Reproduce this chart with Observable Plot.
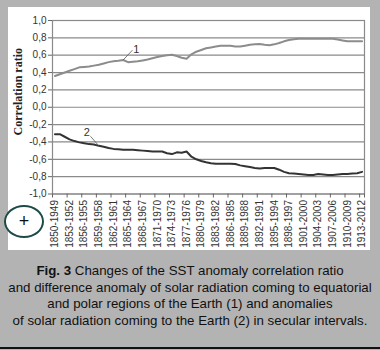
<!DOCTYPE html>
<html><head><meta charset="utf-8">
<script src="https://cdn.jsdelivr.net/npm/d3@7"></script>
<script src="https://cdn.jsdelivr.net/npm/@observablehq/plot@0.6"></script>
<style>
html,body{margin:0;padding:0;}
body{width:380px;height:350px;background:#b3b3b3;position:relative;overflow:hidden;font-family:"Liberation Sans",Arial,sans-serif;}
#panel{position:absolute;left:8px;top:7px;width:362px;height:243px;background:#fff;}
#panel svg{display:block;}
#badge{position:absolute;left:4px;top:205px;width:36px;height:29px;border:2px solid #1e4b48;border-radius:50%;background:#fff;text-align:center;line-height:28px;font-size:18px;color:#111;}
#caption{position:absolute;left:0;top:263px;width:380px;text-align:center;font-size:13.3px;line-height:16.5px;color:#111;}
#rule{position:absolute;left:0;top:347px;width:380px;height:2px;background:#111;}
</style></head>
<body>
<div id="panel"></div>
<div id="badge">+</div>
<div id="caption"><b>Fig. 3</b> Changes of the SST anomaly correlation ratio<br>and difference anomaly of solar radiation coming to equatorial<br>and polar regions of the Earth (1) and anomalies<br>of solar radiation coming to the Earth (2) in secular intervals.</div>
<div id="rule"></div>
<script>
// Categories: start year of each 100-year window (1850-1949 ... 1913-2012)
const years = d3.range(1850, 1914);

// Series 1: SST anomaly correlation ratio vs. difference anomaly (equatorial - polar)
const series1Values = [
  0.36, 0.38, 0.40, 0.42, 0.44, 0.46, 0.465, 0.47, 0.48, 0.49,
  0.505, 0.52, 0.53, 0.535, 0.545, 0.52, 0.525, 0.53, 0.54, 0.55,
  0.565, 0.58, 0.59, 0.60, 0.605, 0.59, 0.57, 0.56, 0.61, 0.64,
  0.66, 0.68, 0.69, 0.70, 0.71, 0.71, 0.71, 0.70, 0.70, 0.71,
  0.72, 0.725, 0.73, 0.72, 0.715, 0.725, 0.74, 0.76, 0.775, 0.785,
  0.79, 0.79, 0.79, 0.79, 0.79, 0.79, 0.79, 0.79, 0.78, 0.77,
  0.76, 0.76, 0.76, 0.76
];

// Series 2: correlation ratio vs. anomalies of solar radiation coming to the Earth
const series2Values = [
  -0.31, -0.31, -0.34, -0.37, -0.39, -0.405, -0.415, -0.425, -0.43, -0.445,
  -0.455, -0.47, -0.48, -0.485, -0.49, -0.49, -0.49, -0.495, -0.50, -0.505,
  -0.51, -0.51, -0.51, -0.53, -0.54, -0.52, -0.525, -0.51, -0.57, -0.60,
  -0.62, -0.635, -0.645, -0.65, -0.65, -0.65, -0.65, -0.655, -0.67, -0.68,
  -0.69, -0.70, -0.705, -0.70, -0.70, -0.70, -0.72, -0.745, -0.76, -0.765,
  -0.77, -0.775, -0.78, -0.78, -0.77, -0.775, -0.78, -0.78, -0.775, -0.77,
  -0.77, -0.765, -0.76, -0.745
];

// Tick labels (every third window)
const labelYears = [1850,1853,1856,1859,1862,1865,1868,1871,1874,1877,1880,1883,1886,1889,1892,1895,1898,1901,1904,1907,1910,1913];
const tickLabels = ["1850-1949","1853-1952","1856-1955","1859-1958","1862-1961","1865-1964","1868-1967","1871-1970","1874-1973","1877-1976","1880-1979","1883-1982","1886-1985","1889-1988","1892-1991","1895-1994","1898-1997","1901-2000","1904-2003","1907-2006","1910-2009","1913-2012"];
const yTicks = [-1.0,-0.8,-0.6,-0.4,-0.2,0.0,0.2,0.4,0.6,0.8,1.0];
const yLabel = "Correlation ratio";

// Series labels, attached to the year where the leader touches the line
const seriesLabels = ["1", "2"];
const labelAnchorYears = [1864, 1859];

const s1 = years.map((y, i) => ({year: y, value: series1Values[i]}));
const s2 = years.map((y, i) => ({year: y, value: series2Values[i]}));
const boundaries = labelYears.map(y => y - 0.5).concat([1913.5]);
const ann1 = s1.filter(d => d.year === labelAnchorYears[0]).map(d => ({...d, label: seriesLabels[0]}));
const ann2 = s2.filter(d => d.year === labelAnchorYears[1]).map(d => ({...d, label: seriesLabels[1]}));

const fmt = d => (d < 0 ? "-" : "") + Math.abs(d).toFixed(1).replace(".", ",");

const chart = Plot.plot({
  width: 362,
  height: 243,
  marginLeft: 44,
  marginRight: 6,
  marginTop: 13,
  marginBottom: 56.5,
  style: {background: "#fff", fontFamily: "'Liberation Sans', Arial, sans-serif", fontSize: "10px", color: "#333"},
  x: {domain: [1849.5, 1913.5]},
  y: {domain: [-1, 1]},
  marks: [
    Plot.gridY(yTicks, {stroke: "#8a8a8a", strokeOpacity: 1, strokeWidth: 1.2}),
    Plot.frame({stroke: "#8a8a8a", strokeWidth: 1.2}),
    Plot.axisY(yTicks, {tickFormat: fmt, tickSize: 4, tickPadding: 2, fontSize: 10, fill: "#333", stroke: "#666", label: null}),
    Plot.axisX(boundaries, {tickSize: 4, tickFormat: () => "", stroke: "#666", label: null}),
    Plot.axisX(labelYears, {tickSize: 0, tickRotate: -90, tickPadding: 6, tickFormat: (d, i) => tickLabels[labelYears.indexOf(d)], fontSize: 10, fill: "#333", label: null}),
    Plot.line(s1, {x: "year", y: "value", stroke: "#8c8c8c", strokeWidth: 2}),
    Plot.line(s2, {x: "year", y: "value", stroke: "#333", strokeWidth: 2}),
    Plot.link(ann1, {x1: "year", y1: "value", x2: d => d.year + 1.9, y2: d => d.value + 0.113, stroke: "#555", strokeWidth: 0.8}),
    Plot.text(ann1, {x: "year", y: "value", text: "label", dx: 13, dy: -11, fontSize: 11, fill: "#333"}),
    Plot.link(ann2, {x1: "year", y1: "value", x2: d => d.year - 1.7, y2: d => d.value + 0.11, stroke: "#555", strokeWidth: 0.8}),
    Plot.text(ann2, {x: "year", y: "value", text: "label", dx: -12, dy: -13, fontSize: 11, fill: "#333"}),
    Plot.text([yLabel], {frameAnchor: "left", textAnchor: "middle", rotate: -90, dx: -34.5, dy: -15.5, fontFamily: "'Liberation Serif', 'Times New Roman', serif", fontWeight: "bold", fontSize: 12, fill: "#222"})
  ]
});
document.getElementById("panel").appendChild(chart);
</script>
</body></html>
